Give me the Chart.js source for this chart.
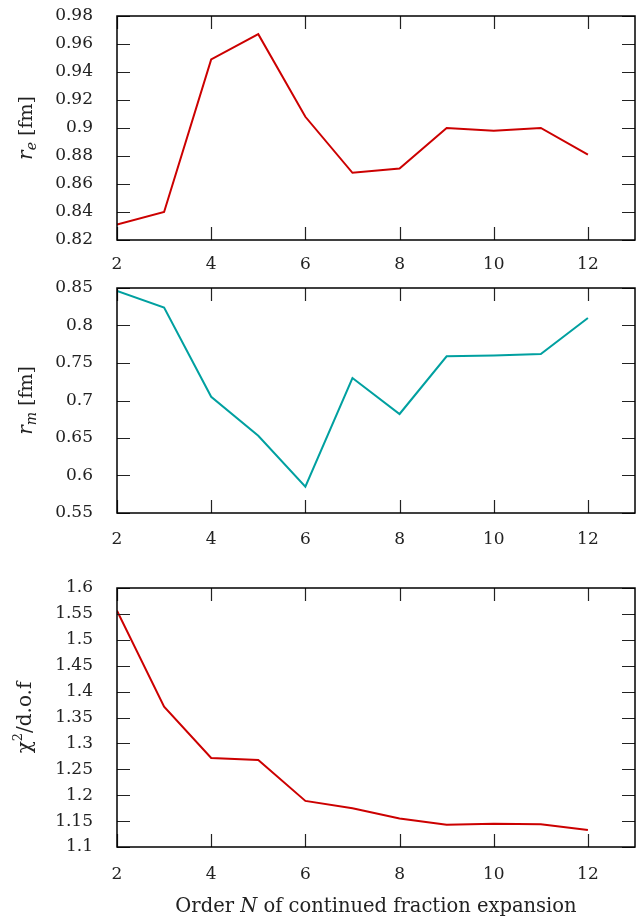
<!DOCTYPE html>
<html>
<head>
<meta charset="utf-8">
<script src="https://cdn.jsdelivr.net/npm/chart.js@4.4.0/dist/chart.umd.min.js"></script>
<style>
  html, body { margin: 0; padding: 0; background: #fff; }
  .panel { position: absolute; left: 0; width: 636px; }
  #xtitle {
    position: absolute; left: 117px; width: 518px; top: 896px;
    text-align: center; font: 19.5px/19.5px "DejaVu Serif", serif; color: #222;
    white-space: nowrap;
  }
</style>
</head>
<body>
<div class="panel" style="top:0;height:290px"><canvas id="c1"></canvas></div>
<div class="panel" style="top:270px;height:300px"><canvas id="c2"></canvas></div>
<div class="panel" style="top:560px;height:330px"><canvas id="c3"></canvas></div>
<div id="xtitle">Order <i>N</i> of continued fraction expansion</div>
<script>
const orders = [2, 3, 4, 5, 6, 7, 8, 9, 10, 11, 12]
const xTickLabels = ['2', '4', '6', '8', '10', '12']
const rE = [0.831, 0.840, 0.949, 0.967, 0.908, 0.868, 0.871, 0.900, 0.898, 0.900, 0.881]
const rM = [0.846, 0.824, 0.705, 0.653, 0.585, 0.730, 0.682, 0.759, 0.760, 0.762, 0.810]
const chi2 = [1.556, 1.371, 1.272, 1.268, 1.189, 1.175, 1.155, 1.143, 1.145, 1.144, 1.133]

const SERIF = '"DejaVu Serif", serif'
const RED = '#cc0000'
const TEAL = '#00a0a0'

// draws a row of text pieces with their own fonts and offsets
function drawParts(ctx, parts) {
  let total = 0
  parts.forEach(p => { ctx.font = p.font; total += ctx.measureText(p.text).width })
  let x = -total / 2
  parts.forEach(p => {
    ctx.font = p.font
    ctx.fillText(p.text, x, p.dy || 0)
    x += ctx.measureText(p.text).width
  })
}

// rotated y title with sub/superscripts
const yTitle = {
  id: 'yTitle',
  afterDraw(chart, args, opts) {
    const { ctx, chartArea: a } = chart
    ctx.save()
    ctx.fillStyle = '#222'
    ctx.textBaseline = 'alphabetic'
    ctx.textAlign = 'left'
    ctx.translate(opts.x, (a.top + a.bottom) / 2)
    ctx.rotate(-Math.PI / 2)
    drawParts(ctx, opts.parts)
    ctx.restore()
  }
}

// frame on all four sides, inward ticks, and x tick labels from the scale
const frameTicks = {
  id: 'frameTicks',
  afterDraw(chart, args, opts) {
    const { ctx, chartArea: a, scales } = chart
    const len = 13
    ctx.save()
    ctx.strokeStyle = '#222'
    ctx.lineWidth = 1.2
    ctx.beginPath()
    scales.x.ticks.forEach(t => {
      const px = Math.round(scales.x.getPixelForValue(t.value)) + 0.5
      ctx.moveTo(px, a.bottom); ctx.lineTo(px, a.bottom - len)
      ctx.moveTo(px, a.top); ctx.lineTo(px, a.top + len)
    })
    scales.y.ticks.forEach(t => {
      const py = Math.round(scales.y.getPixelForValue(t.value)) + 0.5
      ctx.moveTo(a.left, py); ctx.lineTo(a.left + len, py)
      ctx.moveTo(a.right, py); ctx.lineTo(a.right - len, py)
    })
    ctx.stroke()
    ctx.strokeStyle = '#000'
    ctx.lineWidth = 1.5
    ctx.strokeRect(a.left, a.top, a.right - a.left, a.bottom - a.top)

    ctx.fillStyle = '#222'
    ctx.textBaseline = 'alphabetic'
    ctx.textAlign = 'center'
    ctx.font = '17px ' + SERIF
    scales.x.ticks.forEach((t, i) => {
      const text = xTickLabels[i] || String(t.value)
      ctx.fillText(text, scales.x.getPixelForValue(t.value), a.bottom + opts.labelGap)
    })
    ctx.restore()
  }
}

function makeChart(id, values, color, cfg) {
  return new Chart(document.getElementById(id), {
    type: 'line',
    data: {
      datasets: [{
        data: orders.map((n, i) => ({ x: n, y: values[i] })),
        borderColor: color,
        borderWidth: 2,
        pointRadius: 0,
        tension: 0,
        fill: false
      }]
    },
    options: {
      responsive: true,
      maintainAspectRatio: false,
      animation: false,
      layout: { padding: { top: cfg.top, right: 1, left: 0, bottom: 0 } },
      plugins: {
        legend: { display: false },
        tooltip: { enabled: false },
        frameTicks: { labelGap: cfg.labelGap },
        yTitle: cfg.yTitle
      },
      scales: {
        x: {
          type: 'linear',
          min: 2,
          max: 13,
          grid: { display: false, drawTicks: false },
          border: { display: false },
          ticks: {
            stepSize: 2,
            includeBounds: false,
            autoSkip: false,
            maxRotation: 0,
            display: false
          },
          afterFit: s => { s.height = cfg.xHeight }
        },
        y: {
          min: cfg.yMin,
          max: cfg.yMax,
          grid: { display: false, drawTicks: false },
          border: { display: false },
          ticks: {
            stepSize: cfg.yStep,
            autoSkip: false,
            padding: 24,
            color: '#222',
            font: { family: SERIF, size: 17 },
            callback: v => String(Math.round(v * 100) / 100)
          },
          afterFit: s => {
            s.width = 117
            s.paddingTop = 0
            s.paddingBottom = 0
          }
        }
      }
    },
    plugins: [yTitle, frameTicks]
  })
}

makeChart('c1', rE, RED, {
  top: 16, xHeight: 50, labelGap: 29,
  yMin: 0.82, yMax: 0.98, yStep: 0.02,
  yTitle: {
    x: 32,
    parts: [
      { text: 'r', font: 'italic 20px ' + SERIF },
      { text: 'e', font: 'italic 14px ' + SERIF, dy: 4 },
      { text: ' [fm]', font: '19px ' + SERIF }
    ]
  }
})

makeChart('c2', rM, TEAL, {
  top: 18, xHeight: 57, labelGap: 31,
  yMin: 0.55, yMax: 0.85, yStep: 0.05,
  yTitle: {
    x: 32,
    parts: [
      { text: 'r', font: 'italic 20px ' + SERIF },
      { text: 'm', font: 'italic 14px ' + SERIF, dy: 4 },
      { text: ' [fm]', font: '19px ' + SERIF }
    ]
  }
})

makeChart('c3', chi2, RED, {
  top: 28, xHeight: 43, labelGap: 32,
  yMin: 1.1, yMax: 1.6, yStep: 0.05,
  yTitle: {
    x: 31,
    parts: [
      { text: 'χ', font: '20px ' + SERIF },
      { text: '2', font: '13px ' + SERIF, dy: -9 },
      { text: '/d.o.f', font: '20px ' + SERIF }
    ]
  }
})
</script>
</body>
</html>
